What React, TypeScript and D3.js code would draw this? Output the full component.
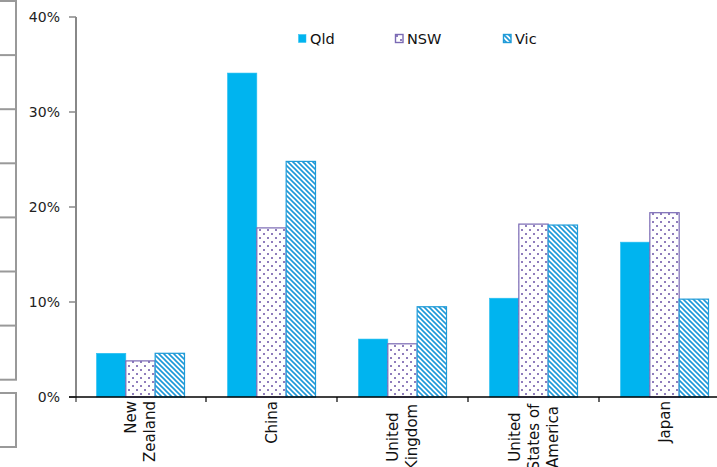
import React from "react";
import * as d3 from "d3";

const categories = ["New Zealand", "China", "United Kingdom", "United States of America", "Japan"];
const labelLines = [["New", "Zealand"], ["China"], ["United", "Kingdom"], ["United", "States of", "America"], ["Japan"]];
const labelAlign = ["top", "top", "center", "center", "top"];
const series = ["Qld", "NSW", "Vic"];
const qld = [4.6, 34.1, 6.1, 10.4, 16.3];
const nsw = [3.8, 17.8, 5.6, 18.2, 19.4];
const vic = [4.6, 24.8, 9.5, 18.1, 10.3];
const yTicks = [0, 10, 20, 30, 40];
const legendX = [298, 395, 503];

const W = 717;
const H = 467;
const FONT = "'DejaVu Sans', sans-serif";

const fills: Record<string, string> = { Qld: "#00b4ef", NSW: "url(#dots)", Vic: "url(#stripes)" };
const strokes: Record<string, string> = { Qld: "#2bbff1", NSW: "#7a6ab4", Vic: "#1f9bd8" };

export default function App() {
  const x = d3.scaleBand<string>().domain(categories).range([75, 730]).padding(0);
  const bw = x.bandwidth();
  const groupW = 88;
  const xs = d3.scaleBand<string>().domain(series).range([(bw - groupW) / 2, (bw + groupW) / 2]).padding(0);
  const y = d3.scaleLinear().domain([0, 40]).range([397, 17]);
  const values: Record<string, number[]> = { Qld: qld, NSW: nsw, Vic: vic };
  const frameRows = d3.range(8).map((i) => 1 + i * 54.1);

  return (
    <svg width={W} height={H} style={{ position: "absolute", left: 0, top: 0, background: "#fff" }} fontFamily={FONT}>
      <defs>
        <pattern id="dots" width={8} height={8} patternUnits="userSpaceOnUse">
          <rect width={8} height={8} fill="#fff" />
          <circle cx={2} cy={2} r={1} fill="#6a52a6" />
          <circle cx={6} cy={6} r={1} fill="#6a52a6" />
        </pattern>
        <pattern id="stripes" width={5} height={5} patternUnits="userSpaceOnUse">
          <rect width={5} height={5} fill="#fff" />
          <path d="M-1,-1 L6,6 M-1,4 L1,6 M4,-1 L6,1" stroke="#1c98d8" strokeWidth={1.6} />
        </pattern>
      </defs>

      {/* decorative frame at left edge */}
      <g stroke="#999" strokeWidth={2} fill="none">
        <line x1={16} x2={16} y1={0} y2={frameRows[7]} />
        {frameRows.map((r, i) => (
          <line key={i} x1={0} x2={17} y1={r} y2={r} />
        ))}
        <line x1={16} x2={16} y1={393} y2={448} />
        <line x1={0} x2={17} y1={393} y2={393} />
        <line x1={0} x2={17} y1={447} y2={447} />
      </g>

      {/* bars */}
      {categories.map((c, ci) => (
        <g key={c} transform={`translate(${x(c)},0)`}>
          {series.map((s) => (
            <rect
              key={s}
              x={xs(s)!}
              y={y(values[s][ci])}
              width={xs.bandwidth()}
              height={y(0) - y(values[s][ci])}
              fill={fills[s]}
              stroke={strokes[s]}
              strokeWidth={s === "Qld" ? 0.6 : 1.2}
            />
          ))}
        </g>
      ))}

      {/* y axis */}
      <line x1={76} x2={76} y1={y(40)} y2={y(0) + 5} stroke="#888" strokeWidth={2} />
      {yTicks.map((t) => (
        <g key={t}>
          <line x1={69} x2={76} y1={y(t)} y2={y(t)} stroke="#888" strokeWidth={1.5} />
          <text x={60} y={y(t)} dy="0.36em" textAnchor="end" fontSize={14} fill="#222">
            {t}%
          </text>
        </g>
      ))}

      {/* x axis */}
      <line x1={69} x2={W} y1={y(0)} y2={y(0)} stroke="#000" strokeWidth={1.5} />
      {categories.slice(1).map((c) => (
        <line key={c} x1={x(c)!} x2={x(c)!} y1={y(0)} y2={y(0) + 5} stroke="#000" strokeWidth={1.2} />
      ))}

      {/* x labels */}
      {categories.map((c, ci) => {
        const lines = labelLines[ci];
        const n = lines.length;
        const cx = x(c)! + bw / 2;
        const center = labelAlign[ci] === "center";
        const ty = center ? 437 : 401;
        return (
          <g key={c} transform={`translate(${cx},${ty}) rotate(-90)`}>
            {lines.map((l, li) => (
              <text
                key={li}
                x={0}
                y={(li - (n - 1) / 2) * 19}
                dy="0.36em"
                textAnchor={center ? "middle" : "end"}
                fontSize={15}
                fill="#111"
              >
                {l}
              </text>
            ))}
          </g>
        );
      })}

      {/* legend */}
      {series.map((s, i) => (
        <g key={s} transform={`translate(${legendX[i]},34)`}>
          <rect x={0.5} y={0.5} width={7.5} height={8} fill={fills[s]} stroke={strokes[s]} strokeWidth={s === "Qld" ? 0.5 : 1.4} />
          <text x={12} y={4.5} dy="0.36em" fontSize={14.5} fill="#111">
            {s}
          </text>
        </g>
      ))}
    </svg>
  );
}
